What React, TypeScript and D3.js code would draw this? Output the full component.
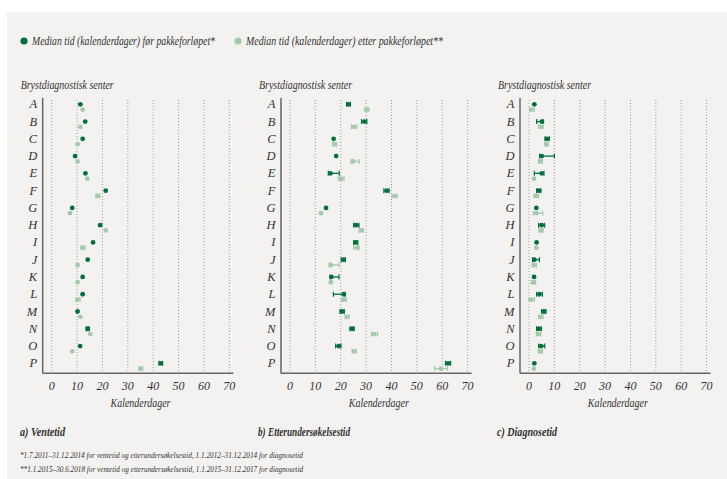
import React, { useRef, useEffect } from 'react';
import * as d3 from 'd3';

const categories = ['A', 'B', 'C', 'D', 'E', 'F', 'G', 'H', 'I', 'J', 'K', 'L', 'M', 'N', 'O', 'P'];
const xTicks = [0, 10, 20, 30, 40, 50, 60, 70];

// a) Ventetid
const ventBefore = [11.3, 13.2, 12.2, 9.2, 13.3, 21.3, 8.1, 19.1, 16.3, 14.2, 12.2, 12.2, 10.2, 14.2, 11.2, 43.0];
const ventBeforeLo = [11.3, 13.2, 12.2, 9.2, 13.3, 21.3, 8.1, 19.1, 16.3, 14.2, 12.2, 12.2, 10.2, 13.6, 11.2, 42.3];
const ventBeforeHi = [11.3, 13.2, 12.2, 9.2, 13.3, 21.3, 8.1, 19.1, 16.3, 14.2, 12.2, 12.2, 10.2, 14.8, 11.2, 43.7];
const ventAfter = [12.2, 11.3, 10.2, 10.2, 14.0, 18.1, 7.2, 21.3, 12.2, 10.2, 10.2, 10.2, 11.3, 15.2, 8.1, 34.9];
const ventAfterLo = [12.2, 11.3, 10.2, 10.2, 14.0, 17.5, 7.2, 21.3, 11.5, 10.2, 10.2, 9.6, 11.3, 15.2, 8.1, 34.3];
const ventAfterHi = [12.2, 11.3, 10.2, 10.2, 14.0, 19.0, 7.2, 21.3, 13.2, 10.2, 10.2, 11.2, 11.3, 15.2, 8.1, 35.9];

// b) Etterundersøkelsestid
const etterBefore = [23.1, 29.3, 17.2, 18.2, 16.0, 38.1, 14.2, 26.1, 25.9, 21.1, 16.3, 21.2, 20.5, 24.5, 19.2, 62.3];
const etterBeforeLo = [22.3, 28.2, 17.2, 18.2, 15.1, 37.0, 14.2, 25.1, 25.1, 20.2, 15.8, 17.1, 19.7, 23.6, 18.0, 61.3];
const etterBeforeHi = [23.8, 30.3, 17.2, 18.2, 19.4, 39.1, 14.2, 27.2, 26.7, 21.8, 19.3, 21.7, 21.4, 25.3, 20.1, 63.3];
const etterAfter = [30.3, 25.2, 17.6, 24.9, 20.1, 41.2, 12.2, 28.1, 26.5, 16.1, 16.1, 21.2, 22.4, 33.1, 25.3, 59.5];
const etterAfterLo = [29.5, 24.2, 16.8, 24.0, 19.0, 40.2, 12.2, 27.2, 25.1, 15.4, 16.1, 20.4, 21.7, 32.1, 24.5, 57.1];
const etterAfterHi = [31.1, 26.3, 18.4, 27.3, 21.3, 42.3, 12.2, 28.9, 27.2, 19.3, 16.1, 22.2, 23.3, 34.5, 26.1, 62.0];

// c) Diagnosetid
const diagBefore = [2.1, 5.1, 7.1, 5.0, 5.0, 3.9, 2.9, 5.0, 3.0, 2.1, 2.0, 4.1, 5.9, 3.9, 4.8, 2.1];
const diagBeforeLo = [2.1, 3.0, 6.3, 4.2, 2.1, 3.0, 2.9, 3.8, 3.0, 1.4, 2.0, 3.0, 5.0, 3.0, 3.8, 2.1];
const diagBeforeHi = [2.1, 5.5, 8.0, 10.0, 5.9, 4.7, 2.9, 6.2, 3.0, 4.1, 2.0, 5.3, 6.7, 4.9, 6.2, 2.1];
const diagAfter = [0.9, 4.7, 6.8, 4.5, 2.0, 2.9, 2.9, 4.7, 2.9, 1.9, 1.7, 0.9, 4.6, 3.6, 4.5, 1.9];
const diagAfterLo = [0.3, 3.8, 6.3, 3.7, 2.0, 2.0, 1.7, 3.9, 2.9, 1.3, 0.9, 0.0, 3.9, 2.9, 3.7, 1.9];
const diagAfterHi = [2.1, 5.6, 7.5, 5.3, 2.0, 3.8, 5.4, 5.6, 2.9, 2.9, 2.6, 2.1, 5.5, 4.6, 5.3, 1.9];

const panels = [
    { title: 'a) Ventetid', titleX: 20, titleW: 45, x0: 51.7, before: [ventBefore, ventBeforeLo, ventBeforeHi], after: [ventAfter, ventAfterLo, ventAfterHi] },
    { title: 'b) Etterundersøkelsestid', titleX: 258, titleW: 92, x0: 290, before: [etterBefore, etterBeforeLo, etterBeforeHi], after: [etterAfter, etterAfterLo, etterAfterHi] },
    { title: 'c) Diagnosetid', titleX: 497, titleW: 60, x0: 529, before: [diagBefore, diagBeforeLo, diagBeforeHi], after: [diagAfter, diagAfterLo, diagAfterHi] },
];

const COLORS = {
    bg: '#f3f2f0',
    dark: '#00703c',
    light: '#a4caa9',
    axis: '#666666',
    grid: '#9a9a9a',
    text: '#333333',
};

const FONT = '"Liberation Serif", "DejaVu Serif", serif';

const App: React.FC = () => {
    const ref = useRef<SVGSVGElement>(null);

    useEffect(() => {
        document.body.style.margin = '0';
        if (!ref.current) return;
        const svg = d3.select(ref.current);
        svg.selectAll('*').remove();

        const label = (parent: any, x: number, y: number, t: string, size: number, w?: number, anchor = 'start', bold = false) => {
            const el = parent.append('text')
                .attr('x', x).attr('y', y)
                .attr('text-anchor', anchor)
                .style('font-family', FONT).style('font-style', 'italic').style('font-size', `${size}px`)
                .style('font-weight', bold ? 'bold' : 'normal')
                .style('fill', COLORS.text)
                .text(t);
            if (w) el.attr('textLength', w).attr('lengthAdjust', 'spacingAndGlyphs');
            return el;
        };

        svg.append('rect').attr('x', 7).attr('y', 12).attr('width', 720).attr('height', 467).attr('fill', COLORS.bg);

        // legend
        const legend = [
            { label: 'Median tid (kalenderdager) før pakkeforløpet*', color: COLORS.dark, x: 24, w: 183 },
            { label: 'Median tid (kalenderdager) etter pakkeforløpet**', color: COLORS.light, x: 238, w: 197 },
        ];
        legend.forEach(l => {
            svg.append('circle').attr('cx', l.x).attr('cy', 41).attr('r', 3.6).attr('fill', l.color);
            label(svg, l.x + 8, 45, l.label, 12, l.w);
        });

        const y = d3.scalePoint<string>().domain(categories).range([104.3, 363.3]);
        const top = 100;
        const bottom = 373.3;

        panels.forEach(p => {
            const x = d3.scaleLinear().domain([0, 70]).range([p.x0, p.x0 + 177.6]);
            const g = svg.append('g');

            // grid lines
            g.selectAll('line.grid')
                .data(xTicks)
                .enter()
                .append('line')
                .attr('x1', d => x(d)).attr('x2', d => x(d))
                .attr('y1', top).attr('y2', bottom)
                .attr('stroke', COLORS.grid)
                .attr('stroke-width', 1)
                .attr('stroke-dasharray', '1,2');

            // axes lines
            const axisX = p.x0 - 9;
            g.append('line').attr('x1', axisX).attr('x2', axisX).attr('y1', top - 2).attr('y2', bottom)
                .attr('stroke', COLORS.axis).attr('stroke-width', 1.5);
            g.append('line').attr('x1', axisX).attr('x2', x(70) + 4).attr('y1', bottom).attr('y2', bottom)
                .attr('stroke', COLORS.axis).attr('stroke-width', 1.5);

            // tick labels
            xTicks.forEach(t => label(g, x(t), 390, String(t), 12, undefined, 'middle'));

            label(g, x(35), 407, 'Kalenderdager', 12, 60, 'middle');
            label(g, p.x0 - 31, 89, 'Brystdiagnostisk senter', 12, 93);

            // category labels
            categories.forEach(c => label(g, p.x0 - 14.5, (y(c) as number) + 4, c, 12.5, undefined, 'end'));

            // panel title
            label(g, p.titleX, 436, p.title, 12, p.titleW, 'start', true);

            const series = [
                { vals: p.before, color: COLORS.dark, dy: 0 },
                { vals: p.after, color: COLORS.light, dy: 5.3 },
            ];
            series.forEach(s => {
                const [med, lo, hi] = s.vals;
                const sg = g.append('g');
                categories.forEach((c, i) => {
                    const cy = (y(c) as number) + s.dy;
                    if (hi[i] - lo[i] > 0.05) {
                        sg.append('line').attr('x1', x(lo[i])).attr('x2', x(hi[i])).attr('y1', cy).attr('y2', cy)
                            .attr('stroke', s.color).attr('stroke-width', 1.3);
                        [lo[i], hi[i]].forEach(v => {
                            sg.append('line').attr('x1', x(v)).attr('x2', x(v)).attr('y1', cy - 2.5).attr('y2', cy + 2.5)
                                .attr('stroke', s.color).attr('stroke-width', 1.2);
                        });
                    }
                });
                sg.selectAll('circle')
                    .data(categories)
                    .enter()
                    .append('circle')
                    .attr('cx', (d, i) => x(med[i]))
                    .attr('cy', d => (y(d) as number) + s.dy)
                    .attr('r', 2.4)
                    .attr('fill', s.color);
            });
        });

        // footnotes
        const notes = [
            '*1.7.2011–31.12.2014 for ventetid og etterundersøkelsestid, 1.1.2012–31.12.2014 for diagnosetid',
            '**1.1.2015–30.6.2018 for ventetid og etterundersøkelsestid, 1.1.2015–31.12.2017 for diagnosetid',
        ];
        notes.forEach((n, i) => label(svg, 20, 458 + i * 14, n, 8.5, 283));
    }, []);

    return <svg ref={ref} width={727} height={479} style={{ display: 'block', background: '#ffffff' }}></svg>;
};

export default App;
